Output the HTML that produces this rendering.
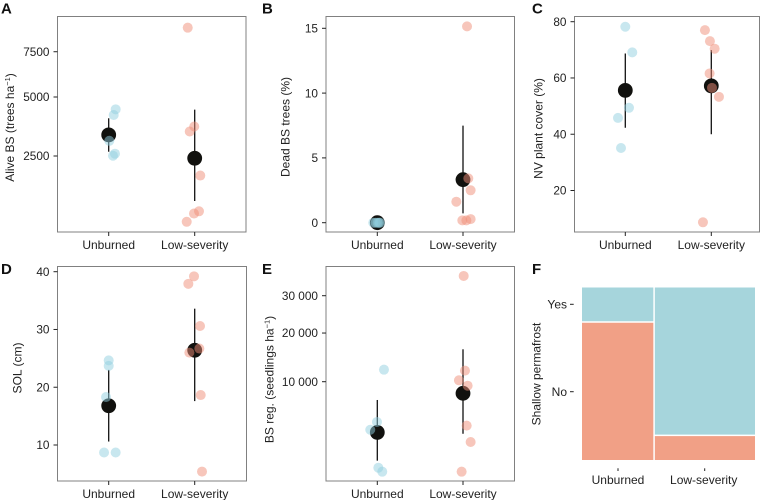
<!DOCTYPE html>
<html lang="en">
<head>
<meta charset="utf-8">
<title>Six-panel burn severity chart</title>
<style>
html,body{margin:0;padding:0;background:#fff;}
svg{display:block;font-family:"Liberation Sans",Arial,sans-serif;}
</style>
</head>
<body>
<svg id="chart" xmlns="http://www.w3.org/2000/svg" width="763" height="500" viewBox="0 0 763 500"></svg>
<script>
const categories = ["Unburned", "Low-severity"];

const aTicks = [2500, 5000, 7500];
const aUnburned = [4406, 4146, 3062, 2581, 2510];
const aUnburnedJitter = [0.081, 0.058, 0.007, 0.073, 0.05];
const aLow = [9034, 3642, 3434, 1861, 936, 888, 724];
const aLowJitter = [-0.081, -0.005, -0.058, 0.065, 0.05, -0.008, -0.093];
const aMeans = [3297, 2421];
const aLower = [2652, 1170];
const aUpper = [3999, 4392];

const bTicks = [0, 5, 10, 15];
const bUnburned = [0, 0, 0, 0, 0];
const bUnburnedJitter = [-0.047, -0.02, 0.004, 0.02, 0.03];
const bLow = [15.15, 3.42, 2.5, 1.62, 0.28, 0.18, 0.18];
const bLowJitter = [0.047, 0.062, 0.089, -0.078, 0.089, 0.039, -0.008];
const bMeans = [0, 3.32];
const bLower = [0, 0.72];
const bUpper = [0, 7.49];

const cTicks = [20, 40, 60, 80];
const cUnburned = [78.2, 69.1, 49.4, 45.8, 35.1];
const cUnburnedJitter = [0, 0.081, 0.043, -0.085, -0.05];
const cLow = [77, 73.1, 70.4, 61.6, 56.5, 53.3, 8.7];
const cLowJitter = [-0.074, -0.016, 0.039, -0.02, 0.008, 0.089, -0.097];
const cMeans = [55.6, 57.2];
const cLower = [42.3, 40];
const cUpper = [68.7, 69.9];

const dTicks = [10, 20, 30, 40];
const dUnburned = [24.65, 23.7, 18.3, 8.7, 8.7];
const dUnburnedJitter = [0, 0, -0.031, -0.054, 0.081];
const dLow = [39.2, 37.9, 30.6, 26.7, 26, 18.65, 5.4];
const dLowJitter = [-0.008, -0.074, 0.062, 0.054, -0.062, 0.07, 0.085];
const dMeans = [16.8, 26.4];
const dLower = [10.6, 17.6];
const dUpper = [23, 33.6];

const eTicks = [10000, 20000, 30000];
const eTickLabels = ["10 000", "20 000", "30 000"];
const eUnburned = [12150, 4320, 3490, 718, 548];
const eUnburnedJitter = [0.078, -0.004, -0.082, 0.012, 0.058];
const eLow = [36100, 11970, 10240, 9330, 3920, 2370, 548];
const eLowJitter = [0.008, 0.023, -0.047, 0.054, 0.043, 0.089, -0.016];
const eMeans = [3235, 8120];
const eLower = [1075, 3100];
const eUpper = [7130, 16280];

const mosaicYes = [1, 6];
const mosaicNo = [4, 1];

const svg = document.getElementById("chart");
const NS = "http://www.w3.org/2000/svg";

function make(tag, attrs, parent) {
  const el = document.createElementNS(NS, tag);
  for (const k in attrs) el.setAttribute(k, attrs[k]);
  (parent || svg).appendChild(el);
  return el;
}

function linearT(v) { return v; }
function sqrtT(v) { return Math.sqrt(v); }

function makeYScale(transform, v0, y0, v1, y1) {
  const k = (y1 - y0) / (transform(v1) - transform(v0));
  return function (v) { return y0 + (transform(v) - transform(v0)) * k; };
}

function makeXScale(x0, x1) {
  return function (pos) { return x0 + pos * (x1 - x0); };
}

function yTitle(parent, x, y, main, sup, tail, name) {
  const t = make("text", { transform: "translate(" + x + "," + y + ") rotate(-90)", "text-anchor": "middle", "font-size": 12, fill: "#222" }, parent);
  
  
  t.appendChild(document.createTextNode(main));
  if (sup) {
    make("tspan", { dy: -4, "font-size": 7.5 }, t).textContent = sup;
    make("tspan", { dy: 4 }, t).textContent = tail;
  }
}

function drawPanel(p) {
  const g = make("g", {});
  
  

  const letter = make("text", { x: p.letterX, y: p.letterY, "font-size": 15, "font-weight": "bold", fill: "#111" }, g);
  letter.textContent = p.letter;
  
  

  const frame = make("rect", { x: p.left, y: p.top, width: p.right - p.left, height: p.bottom - p.top, fill: "#fff", stroke: "#808080", "stroke-width": 1 }, g);
  
  

  p.ticks.forEach(function (v, i) {
    const y = p.y(v);
    const tick = make("line", { x1: p.left - 4, x2: p.left, y1: y, y2: y, stroke: "#222", "stroke-width": 1 }, g);
    
    
    const label = make("text", { x: p.left - 8, y: y + 4.2, "text-anchor": "end", "font-size": 11.8, fill: "#222" }, g);
    label.textContent = p.tickLabels ? p.tickLabels[i] : String(v);
    
    
  });

  categories.forEach(function (c, i) {
    const x = p.x(i);
    const tick = make("line", { x1: x, x2: x, y1: p.bottom, y2: p.bottom + 4, stroke: "#222", "stroke-width": 1 }, g);
    
    
    const label = make("text", { x: x, y: p.bottom + 16.8, "text-anchor": "middle", "font-size": 12, fill: "#222" }, g);
    label.textContent = c;
    
    
  });

  yTitle(g, p.titleX, p.titleY, p.title, p.titleSup, p.titleTail, "y-axis-title");

  p.means.forEach(function (m, i) {
    if (p.upper[i] !== p.lower[i]) {
      const bar = make("line", { x1: p.x(i), x2: p.x(i), y1: p.y(p.upper[i]), y2: p.y(p.lower[i]), stroke: "#111", "stroke-width": 1.3 }, g);
      
      
    }
    const dot = make("circle", { cx: p.x(i), cy: p.y(m), r: 7.4, fill: "#11110e" }, g);
    
    
  });

  p.unburned.forEach(function (v, i) {
    const pt = make("circle", { cx: p.x(0 + p.unburnedJitter[i]), cy: p.y(v), r: 5, fill: "#92cfdf", "fill-opacity": 0.5 }, g);
    
    
  });
  p.low.forEach(function (v, i) {
    const pt = make("circle", { cx: p.x(1 + p.lowJitter[i]), cy: p.y(v), r: 5, fill: "#f08d78", "fill-opacity": 0.5 }, g);
    
    
  });
}

drawPanel({
  letter: "A", letterX: 1, letterY: 13.5, left: 57.5, right: 246, top: 16.5, bottom: 232,
  x: makeXScale(108.7, 194.7), y: makeYScale(sqrtT, 2500, 156, 5000, 97),
  ticks: aTicks, title: "Alive BS (trees ha", titleSup: "−1", titleTail: ")", titleX: 14, titleY: 127.5,
  unburned: aUnburned, unburnedJitter: aUnburnedJitter, low: aLow, lowJitter: aLowJitter,
  means: aMeans, lower: aLower, upper: aUpper
});

drawPanel({
  letter: "B", letterX: 262, letterY: 13.5, left: 326, right: 514.5, top: 16.5, bottom: 232,
  x: makeXScale(377.3, 463), y: makeYScale(linearT, 0, 222.7, 15, 28.3),
  ticks: bTicks, title: "Dead BS trees (%)", titleX: 289.5, titleY: 127,
  unburned: bUnburned, unburnedJitter: bUnburnedJitter, low: bLow, lowJitter: bLowJitter,
  means: bMeans, lower: bLower, upper: bUpper
});

drawPanel({
  letter: "C", letterX: 532, letterY: 13.5, left: 574.5, right: 759.5, top: 16.5, bottom: 232,
  x: makeXScale(625.3, 711.3), y: makeYScale(linearT, 20, 190.5, 80, 21.7),
  ticks: cTicks, title: "NV plant cover (%)", titleX: 542.5, titleY: 128.5,
  unburned: cUnburned, unburnedJitter: cUnburnedJitter, low: cLow, lowJitter: cLowJitter,
  means: cMeans, lower: cLower, upper: cUpper
});

drawPanel({
  letter: "D", letterX: 1, letterY: 274, left: 57.5, right: 246.5, top: 266.5, bottom: 481,
  x: makeXScale(108.7, 194.7), y: makeYScale(linearT, 10, 445, 40, 271.7),
  ticks: dTicks, title: "SOL (cm)", titleX: 21.5, titleY: 368,
  unburned: dUnburned, unburnedJitter: dUnburnedJitter, low: dLow, lowJitter: dLowJitter,
  means: dMeans, lower: dLower, upper: dUpper
});

drawPanel({
  letter: "E", letterX: 262, letterY: 274, left: 326, right: 514.5, top: 266.5, bottom: 481,
  x: makeXScale(377.3, 463), y: makeYScale(sqrtT, 10000, 381.7, 30000, 295.7),
  ticks: eTicks, tickLabels: eTickLabels, title: "BS reg. (seedlings ha", titleSup: "−1", titleTail: ")", titleX: 273.5, titleY: 379.5,
  unburned: eUnburned, unburnedJitter: eUnburnedJitter, low: eLow, lowJitter: eLowJitter,
  means: eMeans, lower: eLower, upper: eUpper
});

(function drawMosaic() {
  const left = 582, right = 755, top = 287.5, bottom = 460;
  const g = make("g", {});
  
  

  const letter = make("text", { x: 532, y: 274, "font-size": 15, "font-weight": "bold", fill: "#111" }, g);
  letter.textContent = "F";
  
  

  yTitle(g, 540.5, 374, "Shallow permafrost", null, null, "y-axis-title");

  const totals = mosaicYes.map(function (v, i) { return v + mosaicNo[i]; });
  const total = totals.reduce(function (a, b) { return a + b; }, 0);
  const xUnit = (right - left) / total;
  const h = bottom - top;
  const gap = 1.5;
  let cursor = left;
  totals.forEach(function (n, i) {
    const w = n * xUnit;
    const yesH = h * mosaicYes[i] / n;
    const yes = make("rect", { x: cursor + (i ? gap / 2 : 0), y: top, width: w - gap / 2, height: yesH - gap / 2, fill: "#a6d5dc" }, g);
    
    
    const no = make("rect", { x: cursor + (i ? gap / 2 : 0), y: top + yesH + gap / 2, width: w - gap / 2, height: h - yesH - gap / 2, fill: "#f1a086" }, g);
    
    
    const cx = i === 0 ? 618 : 704.7;
    const tick = make("line", { x1: cx, x2: cx, y1: 468.3, y2: 471, stroke: "#222", "stroke-width": 1 }, g);
    
    
    const label = make("text", { x: cx - (i === 0 ? 0 : 1), y: 484, "text-anchor": "middle", "font-size": 12, fill: "#222" }, g);
    label.textContent = categories[i];
    
    
    cursor += w;
  });

  [["Yes", 304.3], ["No", 391.7]].forEach(function (d) {
    const label = make("text", { x: 567, y: d[1] + 4.2, "text-anchor": "end", "font-size": 12, fill: "#222" }, g);
    label.textContent = d[0];
    
    
    const tick = make("line", { x1: 570, x2: 573.7, y1: d[1], y2: d[1], stroke: "#222", "stroke-width": 1 }, g);
    
    
  });
})();
</script>
</body>
</html>
